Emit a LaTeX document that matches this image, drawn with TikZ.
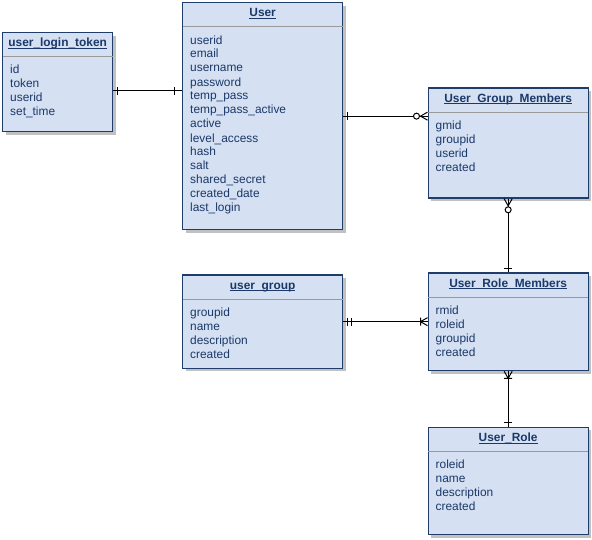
\documentclass[tikz,border=0pt]{standalone}
\usepackage{fontspec}
\setmainfont{Liberation Sans}
\usetikzlibrary{calc,shadows,decorations.markings}
\definecolor{erfill}{HTML}{D5E1F2}
\definecolor{erborder}{HTML}{1E3D6B}
\definecolor{ertext}{HTML}{1B3869}
\newcommand{\ulhead}[1]{\setbox0\hbox{#1}\rlap{\rule[-2pt]{\wd0}{1pt}}\box0}

\begin{document}
\begin{tikzpicture}[x=1pt, y=-1pt,
  link/.style={draw=black, line width=1pt},
  one start/.style={postaction={decorate, decoration={markings, mark=at position 0 with {\draw[link] (#1,-4pt) -- (#1,4pt);}}}},
  one start/.default=4pt,
  one end/.style={postaction={decorate, decoration={markings, mark=at position 1 with {\draw[link] (-#1,-4pt) -- (-#1,4pt);}}}},
  one end/.default=4pt,
  zero many start/.style={postaction={decorate, decoration={markings, mark=at position 0 with {\draw[link] (0,-4pt) -- (7pt,0) -- (0,4pt); \draw[link, fill=white] (11pt,0) circle (3pt);}}}},
  zero many end/.style={postaction={decorate, decoration={markings, mark=at position 1 with {\draw[link] (0,-4pt) -- (-7pt,0) -- (0,4pt); \draw[link, fill=white] (-11pt,0) circle (3pt);}}}},
  one many start/.style={postaction={decorate, decoration={markings, mark=at position 0 with {\draw[link] (0,-4pt) -- (7pt,0) -- (0,4pt) (7pt,-4pt) -- (7pt,4pt);}}}},
  one many end/.style={postaction={decorate, decoration={markings, mark=at position 1 with {\draw[link] (0,-4pt) -- (-7pt,0) -- (0,4pt) (-7pt,-4pt) -- (-7pt,4pt);}}}}]
% Define styles for tables, headers and field lists
\tikzstyle{table} = [draw=erborder, line width=1.3pt, fill=erfill, rectangle, anchor=north west, inner sep=0pt, drop shadow={shadow xshift=3pt, shadow yshift=-3pt, fill=black!35, opacity=0.7}]
\tikzstyle{head} = [font=\fontsize{11.9}{14}\selectfont\bfseries, text=ertext, anchor=base, inner sep=0pt]
\tikzstyle{fields} = [font=\fontsize{11.9}{14}\selectfont, text=ertext, align=left, anchor=base west, inner sep=0pt]
\tikzstyle{sepline} = [draw=black!40, line width=1pt, shorten <=0.7pt, shorten >=0.7pt]

\useasboundingbox (0,0) rectangle (592,540);

% Tables placement
\node [table, minimum width=110pt, minimum height=99pt] (ult) at (2,32) {};
\node [table, minimum width=160pt, minimum height=227pt] (user) at (182,2) {};
\node [table, minimum width=160pt, minimum height=110pt] (ugm) at (427.5,87.5) {};
\node [table, minimum width=160pt, minimum height=93pt] (ugroup) at (182,274.5) {};
\node [table, minimum width=160pt, minimum height=97.5pt] (urm) at (427.5,272.5) {};
\node [table, minimum width=160pt, minimum height=107.5pt] (role) at (427.5,426.5) {};

% Headers
\node [head] (ulthead) at ($(ult.north)+(0,15)$) {\ulhead{user\_login\_token}};
\node [head] (userhead) at ($(user.north)+(0,15)$) {\ulhead{User}};
\node [head] (ugmhead) at ($(ugm.north)+(0,15)$) {\ulhead{User\_Group\_Members}};
\node [head] (ugrouphead) at ($(ugroup.north)+(0,15)$) {\ulhead{user\_group}};
\node [head] (urmhead) at ($(urm.north)+(0,15)$) {\ulhead{User\_Role\_Members}};
\node [head] (rolehead) at ($(role.north)+(0,15)$) {\ulhead{User\_Role}};

% Header separators
\draw [sepline] ($(ult.north west)+(0,25)$) -- ($(ult.north east)+(0,25)$);
\draw [sepline] ($(user.north west)+(0,25)$) -- ($(user.north east)+(0,25)$);
\draw [sepline] ($(ugm.north west)+(0,25)$) -- ($(ugm.north east)+(0,25)$);
\draw [sepline] ($(ugroup.north west)+(0,25)$) -- ($(ugroup.north east)+(0,25)$);
\draw [sepline] ($(urm.north west)+(0,25)$) -- ($(urm.north east)+(0,25)$);
\draw [sepline] ($(role.north west)+(0,25)$) -- ($(role.north east)+(0,25)$);

% Fields (base is the last line)
\node [fields] (ultfields) at ($(ult.north west)+(8,84)$) {id\\token\\userid\\set\_time};
\node [fields] (userfields) at ($(user.north west)+(8,210)$) {userid\\email\\username\\password\\temp\_pass\\temp\_pass\_active\\active\\level\_access\\hash\\salt\\shared\_secret\\created\_date\\last\_login};
\node [fields] (ugmfields) at ($(ugm.north west)+(8,84)$) {gmid\\groupid\\userid\\created};
\node [fields] (ugroupfields) at ($(ugroup.north west)+(8,84)$) {groupid\\name\\description\\created};
\node [fields] (urmfields) at ($(urm.north west)+(8,84)$) {rmid\\roleid\\groupid\\created};
\node [fields] (rolefields) at ($(role.north west)+(8,84)$) {roleid\\name\\description\\created};

% Draw relationships
\coordinate (ltlink) at ([yshift=-8.5pt]ult.east);
\draw [link, one start, one end=8pt] (ltlink) -- (ltlink -| user.west);
\draw [link, one start, zero many end] (user.east) -- (user.east -| ugm.west);
\draw [link, zero many start, one end] (ugm.south) -- (urm.north);
\draw [link, one start, one start=8pt, one many end] (ugroup.east) -- (ugroup.east -| urm.west);
\draw [link, one many start, one end] (urm.south) -- (role.north);
\end{tikzpicture}
\end{document}
